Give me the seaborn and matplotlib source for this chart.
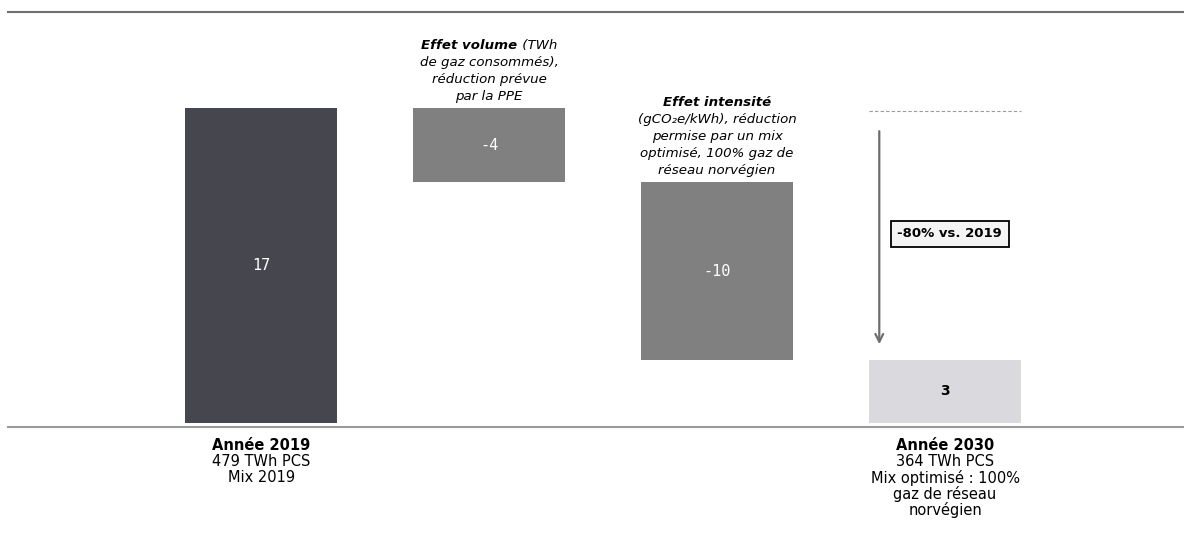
import matplotlib
matplotlib.use("Agg")
import matplotlib.pyplot as plt
import seaborn as sns
import numpy as np
from matplotlib.offsetbox import TextArea, HPacker, AnnotationBbox

sns.set_theme(style="white")
plt.rcParams['font.family'] = ['DejaVu Sans']

# ---- data ----
categories = ["Année 2019", "Effet volume", "Effet intensité", "Année 2030"]
values = [17.0, -4.0, -9.6, 3.4]          # first/last are totals, middle are signed steps
value_labels = ["17", "-4", "-10", "3"]
bar_colors = ["#46464f", "#808080", "#808080", "#d9d9de"]
label_colors = ["white", "white", "white", "black"]
reduction_label = "-80% vs. 2019"

bottom_lines = {
    0: ["Année 2019", "479 TWh PCS", "Mix 2019"],
    3: ["Année 2030", "364 TWh PCS", "Mix optimisé : 100%", "gaz de réseau", "norvégien"],
}
lines_step1 = [[("Effet volume", "bold"), (" (TWh", "normal")],
               [("de gaz consommés),", "normal")],
               [("réduction prévue", "normal")],
               [("par la PPE", "normal")]]
lines_step2 = [[("Effet intensité", "bold")],
               [("(gCO\u2082e/kWh), réduction", "normal")],
               [("permise par un mix", "normal")],
               [("optimisé, 100% gaz de", "normal")],
               [("réseau norvégien", "normal")]]

# waterfall geometry from the values
starts = []
run = 0.0
for i, v in enumerate(values):
    if i == 0:
        starts.append(0.0)
        run = v
    elif i == len(values) - 1:
        starts.append(0.0)
    else:
        run = run + v
        starts.append(run)
bottoms = np.array(starts)
heights = np.abs(np.array(values))
tops = bottoms + heights

fig = plt.figure(figsize=(11.84, 5.33), dpi=100)
ax = fig.add_axes([8 / 1184, 106 / 533, 1 - 8 / 1184, (427 - 12) / 533])

sns.barplot(x=categories, y=heights, bottom=bottoms, color="#808080",
            width=0.667, errorbar=None, ax=ax, saturation=1)
for p, c in zip(ax.patches, bar_colors):
    p.set_facecolor(c)
    p.set_edgecolor("none")

YMIN, YMAX = -0.216, 22.18
ax.set_xlim(-1.11, 4.048)
ax.set_ylim(YMIN, YMAX)
ax.set_xticks([])
ax.set_yticks([])
ax.set_xlabel("")
ax.set_ylabel("")
for s in ["left", "right"]:
    ax.spines[s].set_visible(False)
ax.spines["top"].set_color("#707070")
ax.spines["top"].set_linewidth(1.5)
ax.spines["bottom"].set_color("#9a9a9a")
ax.spines["bottom"].set_linewidth(1.5)

# value labels
for i in range(len(values)):
    mid = bottoms[i] + heights[i] / 2
    if i < 3:
        ax.text(i, mid, value_labels[i], ha="center", va="center", color=label_colors[i],
                fontsize=11, family="DejaVu Sans Mono")
    else:
        ax.text(i, mid, value_labels[i], ha="center", va="center", color=label_colors[i],
                fontsize=10, fontweight="bold")

# annotations above step bars
def mixed_line(x, y, parts, fontsize=9.6):
    areas = [TextArea(txt, textprops=dict(fontsize=fontsize, style="italic", fontweight=weight,
                                          color="black", family="DejaVu Sans"))
             for txt, weight in parts]
    pack = HPacker(children=areas, align="baseline", pad=0, sep=0)
    ab = AnnotationBbox(pack, (x, y), xycoords=("data", "axes pixels"),
                        box_alignment=(0.5, 0.5), frameon=False, pad=0)
    ax.add_artist(ab)

ax_h_px = 427 - 12
def data_to_axpx(yd):
    return (yd - YMIN) / (YMAX - YMIN) * ax_h_px

for i, lines in [(1, lines_step1), (2, lines_step2)]:
    top_px = data_to_axpx(tops[i])
    n = len(lines)
    for k, parts in enumerate(lines):
        y = top_px + 11.5 + (n - 1 - k) * 17
        mixed_line(i, y, parts)

# bottom category texts
for i, lines in bottom_lines.items():
    for k, t in enumerate(lines):
        ax.annotate(t, xy=(i, 0), xycoords=("data", "axes fraction"),
                    xytext=(0, -19 - 16 * k), textcoords="offset pixels",
                    ha="center", va="center", fontsize=10.5,
                    fontweight="bold" if k == 0 else "normal", color="black",
                    annotation_clip=False)

# dashed reference line at the 2019 level over the final bar
w = 0.667
ax.hlines(tops[0] - 0.15, 3 - w / 2, 3 + w / 2, colors="#9a9a9a",
          linestyles=(0, (3, 2)), linewidth=0.8)

# arrow showing the reduction
ax.annotate("", xy=(3 - w / 2 + 0.045, tops[3] + 0.7), xytext=(3 - w / 2 + 0.045, tops[0] - 1.1),
            arrowprops=dict(arrowstyle="->", color="#6e6e6e", lw=1.6, mutation_scale=14))

# reduction box
ax.text(3.02, (tops[0] + tops[3]) / 2, reduction_label, ha="center", va="center",
        fontsize=9.5, fontweight="bold", color="black",
        bbox=dict(boxstyle="square,pad=0.5", facecolor="#f4f4f4", edgecolor="black", linewidth=1.3))

fig.savefig("out.png", dpi=100)
